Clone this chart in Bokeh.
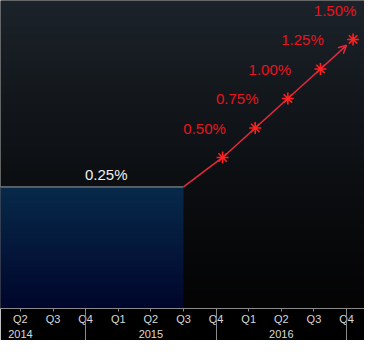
import numpy as np
from bokeh.plotting import figure
from bokeh.models import Range1d, LinearAxis, FixedTicker, Arrow, OpenHead
from bokeh.core.properties import value
from bokeh.embed import file_html
from bokeh.resources import INLINE

# ---- data ----
quarter_labels = ["Q2", "Q3", "Q4", "Q1", "Q2", "Q3", "Q4", "Q1", "Q2", "Q3", "Q4"]
quarter_pos = list(range(len(quarter_labels)))          # Q2 2014 .. Q4 2016
year_labels = ["2014", "2015", "2016"]
year_pos = [0, 4, 8]
year_breaks = [2, 6, 10]

area_x = [-1.0, 5.0]          # current rate held until Q3 2015
area_y = [0.25, 0.25]
area_label = "0.25%"

hike_x = [6.2, 7.2, 8.2, 9.2, 10.2]
hike_y = [0.50, 0.75, 1.00, 1.25, 1.50]
hike_labels = ["0.50%", "0.75%", "1.00%", "1.25%", "1.50%"]

RED = "#e8141e"
LINE_RED = "#e8283c"
FONT = "Liberation Sans"

x0, x1 = -0.61, 10.55
y0, y1 = -0.78, 1.83

p = figure(width=364, height=340, x_range=Range1d(x0, x1), y_range=Range1d(y0, y1),
           output_backend="svg", toolbar_location=None, min_border=0,
           x_axis_location=None, y_axis_location=None)
p.xgrid.visible = False
p.ygrid.visible = False
p.outline_line_color = None
p.background_fill_color = "#000000"
p.border_fill_color = "#000000"

# background gradient (top slate -> bottom black)
n = 200
t = np.linspace(0, 1, n)[:, None]  # 0 bottom, 1 top
top = np.array([28, 35, 42]); bot = np.array([4, 4, 5])
cols = (bot + (top - bot) * t ** 1.2).astype(np.uint32)
img = np.zeros((n, 1), dtype=np.uint32)
view = img.view(dtype=np.uint8).reshape((n, 1, 4))
view[:, :, 0] = cols[:, 0:1]; view[:, :, 1] = cols[:, 1:2]; view[:, :, 2] = cols[:, 2:3]; view[:, :, 3] = 255
p.image_rgba(image=[img], x=x0, y=y0, dw=x1 - x0, dh=y1 - y0)

# blue area gradient
t2 = np.linspace(0, 1, n)[:, None]
atop = np.array([8, 42, 74]); abot = np.array([1, 6, 44])
acols = (abot + (atop - abot) * t2).astype(np.uint32)
aimg = np.zeros((n, 1), dtype=np.uint32)
av = aimg.view(dtype=np.uint8).reshape((n, 1, 4))
av[:, :, 0] = acols[:, 0:1]; av[:, :, 1] = acols[:, 1:2]; av[:, :, 2] = acols[:, 2:3]; av[:, :, 3] = 255
p.image_rgba(image=[aimg], x=area_x[0], y=y0, dw=area_x[-1] - area_x[0], dh=area_y[0] - y0)
p.line(area_x, area_y, line_color="#9aa4ac", line_width=1)
p.text(x=[area_x[-1]], y=[area_y[-1]], text=[area_label], text_align="right",
       text_baseline="middle", x_offset=-56, y_offset=-12,
       text_color="#f0f0f0", text_font=value(FONT), text_font_size="15px")

# projected path
path_x = [area_x[-1]] + hike_x[:-1]
path_y = [area_y[-1]] + hike_y[:-1]
p.line(path_x, path_y, line_color=LINE_RED, line_width=1.5)
f = 0.8
p.add_layout(Arrow(end=OpenHead(size=8, line_color=LINE_RED, line_width=1.5),
                   x_start=hike_x[-2], y_start=hike_y[-2],
                   x_end=hike_x[-2] + f * (hike_x[-1] - hike_x[-2]),
                   y_end=hike_y[-2] + f * (hike_y[-1] - hike_y[-2]),
                   line_color=LINE_RED, line_width=1.5))
p.scatter(hike_x, hike_y, marker="asterisk", size=12, line_color="#ff2020", line_width=1.6)
p.text(x=hike_x, y=hike_y, text=hike_labels, x_offset=-18, y_offset=-29,
       text_align="center", text_baseline="middle", text_color=RED,
       text_font=value(FONT), text_font_size="15px")

# axes
qax = LinearAxis(ticker=FixedTicker(ticks=quarter_pos, minor_ticks=[]),
                 major_label_overrides={pos: lab for pos, lab in zip(quarter_pos, quarter_labels)})
qax.axis_line_color = "#8a8a8a"
qax.major_tick_line_color = "#8a8a8a"
qax.major_tick_out = 3
qax.major_tick_in = 0
qax.minor_tick_out = 0
qax.minor_tick_in = 0
qax.major_label_standoff = 1
qax.major_label_text_color = "#d8d8d8"
qax.major_label_text_font = FONT
qax.major_label_text_font_size = "11px"
p.add_layout(qax, "below")

yax = LinearAxis(ticker=FixedTicker(ticks=year_pos, minor_ticks=year_breaks),
                 major_label_overrides={pos: lab for pos, lab in zip(year_pos, year_labels)})
yax.axis_line_color = None
yax.major_tick_line_color = None
yax.major_tick_out = 0
yax.major_tick_in = 0
yax.minor_tick_line_color = "#8a8a8a"
yax.minor_tick_in = 17
yax.minor_tick_out = 16
yax.major_label_standoff = -14
yax.major_label_text_color = "#d8d8d8"
yax.major_label_text_font = FONT
yax.major_label_text_font_size = "11px"
p.add_layout(yax, "below")

open("out.html", "w").write(file_html(p, INLINE))
